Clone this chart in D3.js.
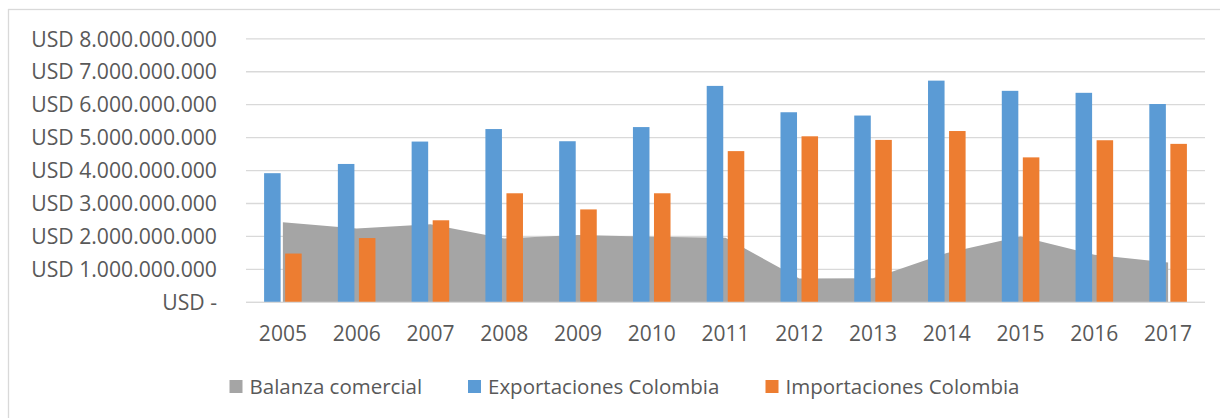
<!DOCTYPE html>
<html>
<head>
<meta charset="utf-8">
<script src="https://cdn.jsdelivr.net/npm/d3@7"></script>
<style>
  html, body { margin: 0; padding: 0; background: #fff; }
  svg { display: block; }
  text { font-family: "Open Sans", sans-serif; fill: #595959; }
</style>
</head>
<body>
<svg id="chart" width="1220" height="418"></svg>
<script>
const years = ["2005","2006","2007","2008","2009","2010","2011","2012","2013","2014","2015","2016","2017"];
const exportaciones = [3.92e9, 4.20e9, 4.88e9, 5.26e9, 4.89e9, 5.32e9, 6.57e9, 5.77e9, 5.67e9, 6.73e9, 6.42e9, 6.36e9, 6.02e9];
const importaciones = [1.48e9, 1.95e9, 2.49e9, 3.31e9, 2.82e9, 3.31e9, 4.59e9, 5.04e9, 4.93e9, 5.20e9, 4.40e9, 4.92e9, 4.81e9];
const balanza = [2.43e9, 2.24e9, 2.37e9, 1.94e9, 2.04e9, 1.99e9, 1.96e9, 0.72e9, 0.73e9, 1.50e9, 2.00e9, 1.44e9, 1.21e9];
const yTicks = [0, 1e9, 2e9, 3e9, 4e9, 5e9, 6e9, 7e9, 8e9];
const yTickLabels = ["USD -", "USD 1.000.000.000", "USD 2.000.000.000", "USD 3.000.000.000", "USD 4.000.000.000", "USD 5.000.000.000", "USD 6.000.000.000", "USD 7.000.000.000", "USD 8.000.000.000"];
const seriesNames = ["Balanza comercial", "Exportaciones Colombia", "Importaciones Colombia"];
const seriesColors = ["#A5A5A5", "#5B9BD5", "#ED7D31"];

const svg = d3.select("#chart");

// chart frame
svg.append("rect")
  .attr("x", 8.5).attr("y", 9.5)
  .attr("width", 1240).attr("height", 440)
  .attr("fill", "none").attr("stroke", "#D9D9D9").attr("stroke-width", 1.3);

const plot = { left: 246, right: 1205, top: 38.8, bottom: 302.3 };

const x = d3.scaleBand().domain(years).range([plot.left, plot.right]).padding(0);
const y = d3.scaleLinear().domain([0, 8e9]).range([plot.bottom, plot.top]);
const inner = d3.scaleBand().domain(["exp", "imp"]).range([0, x.bandwidth()])
  .paddingInner(0.214).paddingOuter(0.86);

// gridlines
svg.append("g").selectAll("line").data(yTicks).join("line")
  .attr("x1", plot.left).attr("x2", plot.right)
  .attr("y1", d => y(d)).attr("y2", d => y(d))
  .attr("stroke", "#D9D9D9").attr("stroke-width", 1.3);

// y axis labels
const yAxis = d3.axisLeft(y).tickValues(yTicks)
  .tickFormat((d, i) => yTickLabels[i]).tickSize(0).tickPadding(29);
const gy = svg.append("g").attr("transform", `translate(${plot.left},0)`).call(yAxis);
gy.select(".domain").remove();
gy.selectAll("text").style("font-family", '"Open Sans", sans-serif')
  .style("font-size", "21.2px").style("fill", "#595959").attr("dy", "0.34em");

// area (balanza)
const area = d3.area()
  .x((d, i) => x(years[i]) + x.bandwidth() / 2)
  .y0(y(0)).y1(d => y(d));
svg.append("path").datum(balanza)
  .attr("d", area).attr("fill", seriesColors[0]);

// bars
const gb = svg.append("g");
gb.selectAll("rect.exp").data(exportaciones).join("rect")
  .attr("class", "exp")
  .attr("x", (d, i) => x(years[i]) + inner("exp"))
  .attr("width", inner.bandwidth())
  .attr("y", d => y(d)).attr("height", d => y(0) - y(d))
  .attr("fill", seriesColors[1]);
gb.selectAll("rect.imp").data(importaciones).join("rect")
  .attr("class", "imp")
  .attr("x", (d, i) => x(years[i]) + inner("imp"))
  .attr("width", inner.bandwidth())
  .attr("y", d => y(d)).attr("height", d => y(0) - y(d))
  .attr("fill", seriesColors[2]);

// x axis line
svg.append("line")
  .attr("x1", plot.left).attr("x2", plot.right)
  .attr("y1", y(0)).attr("y2", y(0))
  .attr("stroke", "#D9D9D9").attr("stroke-width", 1.3);

// x axis labels
const xAxis = d3.axisBottom(x).tickSize(0).tickPadding(0);
const gx = svg.append("g").attr("transform", `translate(0,${y(0)})`).call(xAxis);
gx.select(".domain").remove();
gx.selectAll("text").style("font-family", '"Open Sans", sans-serif')
  .style("font-size", "21px").style("fill", "#595959")
  .attr("y", 39.2).attr("dy", 0);

// legend
const legendX = [229.5, 468, 765.5];
const legend = svg.append("g").selectAll("g").data(seriesNames).join("g")
  .attr("transform", (d, i) => `translate(${legendX[i]},380)`);
legend.append("rect").attr("width", 13).attr("height", 13)
  .attr("fill", (d, i) => seriesColors[i]);
legend.append("text").attr("x", 20).attr("y", 14)
  .style("font-size", "20.5px")
  .text(d => d);
</script>
</body>
</html>
